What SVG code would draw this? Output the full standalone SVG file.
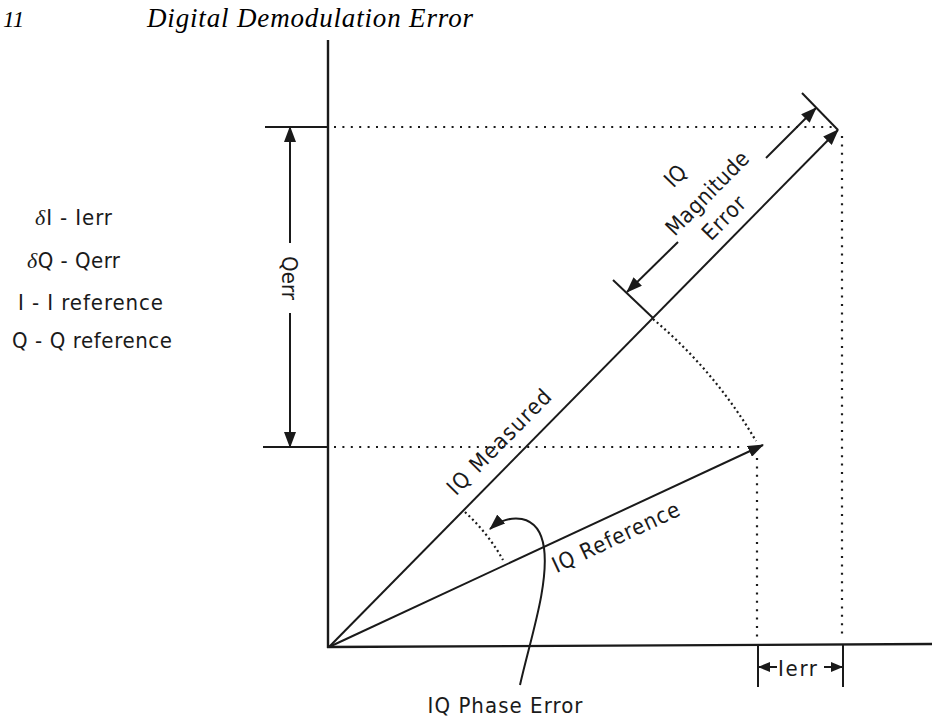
<svg xmlns="http://www.w3.org/2000/svg" width="932" height="717" viewBox="0 0 932 717">
<style>
.ln{stroke:#1a1a1a;stroke-width:2;fill:none}
.ax{stroke:#1a1a1a;stroke-width:2.4;fill:none}
.dot{stroke:#1a1a1a;stroke-width:2.2;fill:none;stroke-dasharray:2 6.4}
.dotc{stroke:#1a1a1a;stroke-width:2.2;fill:none;stroke-dasharray:2 3}
.lbl{font-family:"Liberation Sans Narrow","DejaVu Sans Condensed","Liberation Sans",sans-serif;font-size:22px;fill:#1a1a1a}
.ttl{font-family:"Liberation Serif",serif;font-style:italic;fill:#000}
.gr{font-family:"Liberation Serif",serif;font-style:italic}
</style>
<defs>
<marker id="ah" viewBox="0 0 16 12" refX="15" refY="6" markerWidth="16" markerHeight="12" markerUnits="userSpaceOnUse" orient="auto"><path d="M0,0 L16,6 L0,12 z" fill="#1a1a1a"/></marker>
<marker id="as" viewBox="0 0 12 10" refX="11" refY="5" markerWidth="12" markerHeight="10" markerUnits="userSpaceOnUse" orient="auto"><path d="M0,0 L12,5 L0,10 z" fill="#1a1a1a"/></marker>
</defs>

<g id="title">
<text class="ttl" x="3" y="27" font-size="23">11</text>
<text class="ttl" x="147" y="27" font-size="27" textLength="326" lengthAdjust="spacing">Digital Demodulation Error</text>
</g>

<g id="legend">
<text class="lbl" x="35" y="225" font-size="21" textLength="77" lengthAdjust="spacing"><tspan class="gr">δ</tspan>I - Ierr</text>
<text class="lbl" x="27" y="268" font-size="21" textLength="93" lengthAdjust="spacing"><tspan class="gr">δ</tspan>Q - Qerr</text>
<text class="lbl" x="18" y="310" font-size="21" textLength="145" lengthAdjust="spacing">I - I reference</text>
<text class="lbl" x="12" y="348" font-size="21" textLength="160" lengthAdjust="spacing">Q - Q reference</text>
</g>

<g id="axes">
<line class="ax" x1="328" y1="40" x2="328" y2="648"/>
<line class="ax" x1="327" y1="647" x2="932" y2="644"/>
</g>

<g id="guides">
<line class="dot" x1="334" y1="127" x2="838" y2="127"/>
<line class="dot" x1="842" y1="136" x2="842" y2="640"/>
<line class="dot" x1="334" y1="447" x2="745" y2="447"/>
<line class="dot" x1="757" y1="458" x2="757" y2="640"/>
<path class="dotc" d="M653,319 A468,468 0 0 1 756,441"/>
<path class="dotc" d="M465,512 A194,194 0 0 1 503,560"/>
</g>

<g id="connectors">
<line class="ln" x1="329" y1="647" x2="838" y2="130" marker-end="url(#ah)"/>
<line class="ln" x1="329" y1="647" x2="763" y2="445" marker-end="url(#ah)"/>
<path class="ln" d="M520,685 C530,640 549,585 544,548 C539,512 508,513 490,529" marker-end="url(#ah)"/>
</g>

<g id="qerr">
<line class="ln" x1="265" y1="127" x2="328" y2="127"/>
<line class="ln" x1="263" y1="447" x2="328" y2="447"/>
<line class="ln" x1="290" y1="243" x2="290" y2="127" marker-end="url(#ah)"/>
<line class="ln" x1="290" y1="313" x2="290" y2="447" marker-end="url(#ah)"/>
<text class="lbl" font-size="18" transform="translate(282,278) rotate(90)" text-anchor="middle" textLength="44" lengthAdjust="spacing">Qerr</text>
</g>

<g id="ierr">
<line class="ln" x1="758" y1="644" x2="758" y2="687"/>
<line class="ln" x1="843" y1="644" x2="843" y2="687"/>
<line class="ln" x1="777" y1="667" x2="759" y2="667" marker-end="url(#as)"/>
<line class="ln" x1="824" y1="667" x2="842" y2="667" marker-end="url(#as)"/>
<text class="lbl" x="778" y="676" font-size="19" textLength="39" lengthAdjust="spacing">Ierr</text>
</g>

<g id="magnitude">
<line class="ln" x1="802" y1="93" x2="838" y2="130"/>
<line class="ln" x1="613" y1="280" x2="653" y2="318"/>
<line class="ln" x1="766" y1="158" x2="816" y2="108" marker-end="url(#ah)"/>
<line class="ln" x1="678" y1="242" x2="627" y2="292" marker-end="url(#ah)"/>
<g transform="translate(707,193) rotate(-45.5)">
<text class="lbl" x="-10" y="-27" text-anchor="middle">IQ</text>
<text class="lbl" x="0" y="8" text-anchor="middle" textLength="108" lengthAdjust="spacing">Magnitude</text>
<text class="lbl" x="-6" y="37" text-anchor="middle" textLength="52" lengthAdjust="spacing">Error</text>
</g>
</g>

<g id="measured">
<text class="lbl" transform="translate(504.5,447.4) rotate(-45.4)" text-anchor="middle" textLength="138" lengthAdjust="spacing">IQ Measured</text>
</g>

<g id="reference">
<text class="lbl" transform="translate(619,544) rotate(-25.1)" text-anchor="middle" textLength="138" lengthAdjust="spacing">IQ Reference</text>
</g>

<g id="phase">
<text class="lbl" x="505" y="713" text-anchor="middle" textLength="155" lengthAdjust="spacing">IQ Phase Error</text>
</g>
</svg>
